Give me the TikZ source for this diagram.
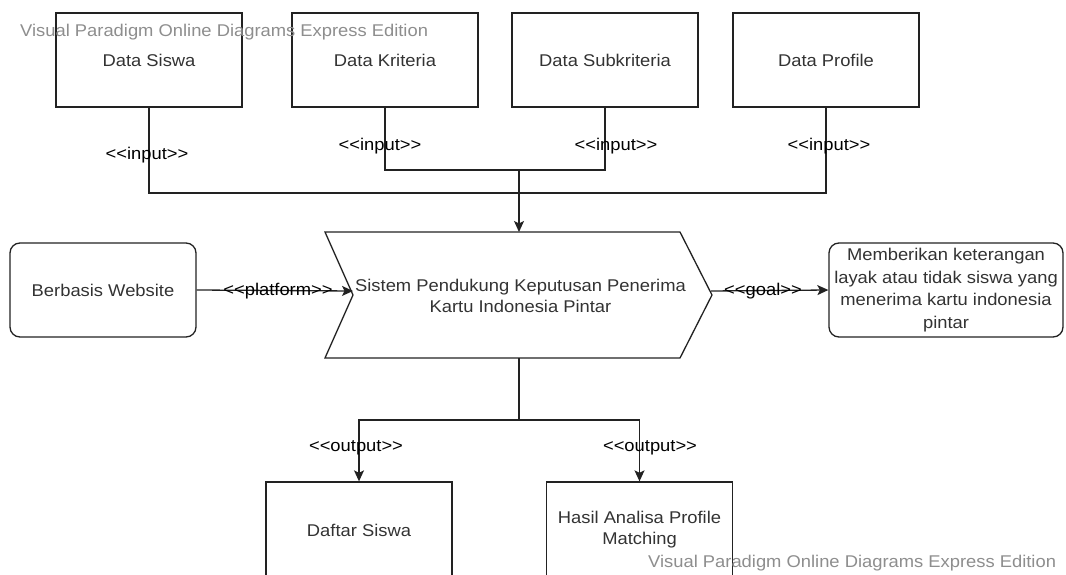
\documentclass[tikz,border=0pt]{standalone}
\usepackage{fontspec}
\setmainfont{Liberation Sans}[FakeStretch=1.08]
\usetikzlibrary{arrows.meta}
\definecolor{linec}{HTML}{222222}
\definecolor{boxtext}{HTML}{333333}
\definecolor{wmgray}{HTML}{8E8E8E}
\begin{document}
\begin{tikzpicture}[x=1pt,y=-1pt,
  every node/.style={font=\fontsize{17}{21}\selectfont},
  box/.style={draw=linec, line width=1.3pt, minimum width=186pt, minimum height=94pt,
              inner sep=0pt, text=boxtext, align=center},
  rbox/.style={box, rounded corners=10pt},
  stereo/.style={text=black, inner sep=1pt},
  wire/.style={draw=linec, line width=1.3pt},
  flow/.style={wire, -{Stealth[length=11pt,width=10pt,inset=2.5pt]}},
  wmtext/.style={text=wmgray, inner sep=0pt, anchor=west}]

\fill[white] (0,0) rectangle (1066,575);
\useasboundingbox (0,0) rectangle (1066,575);
\clip (0,0) rectangle (1066,575);

% input data stores
\node[box] (siswa)    at (149,60) {Data Siswa};
\node[box] (kriteria) at (385,60) {Data Kriteria};
\node[box] (subk)     at (605,60) {Data Subkriteria};
\node[box] (profile)  at (826,60) {Data Profile};

% the decision support system (chevron)
\draw[wire, line join=miter] (325,232) -- (680,232) -- (712,295) -- (680,358)
      -- (325,358) -- (353,295) -- cycle;
\node[text=boxtext, align=center, inner sep=0pt] (sys) at (520.5,296)
      {Sistem Pendukung Keputusan Penerima\\Kartu Indonesia Pintar};
\coordinate (sysN) at (519,232);
\coordinate (sysS) at (519,358);
\coordinate (sysW) at (353,291);
\coordinate (sysE) at (711,291);

% platform and goal
\node[rbox] (web) at (103,290) {Berbasis Website};
\node[rbox, minimum width=234pt, font=\fontsize{17}{22.5}\selectfont] (goal) at (946,290)
      {Memberikan keterangan\\layak atau tidak siswa yang\\menerima kartu indonesia\\pintar};

% outputs
\node[box, minimum height=96pt] (daftar) at (359,530) {Daftar Siswa};
\node[box, minimum height=96pt] (hasil)  at (639.5,530) {Hasil Analisa Profile\\Matching};

% input connectors
\coordinate (jtop) at (519,170);
\coordinate (jmid) at (519,193);
\draw[wire] (siswa.south) |- (jmid);
\draw[wire] (profile.south) |- (jmid);
\draw[wire] (kriteria.south) |- (jtop);
\draw[wire] (subk.south) |- (jtop);
\draw[flow] (jtop) -- (sysN);

% platform / goal connectors
\draw[flow] (web.east) -- (sysW);
\draw[flow] (sysE) -- (goal.west);

% output connectors
\coordinate (jbot) at (519,420);
\draw[wire] (sysS) -- (jbot);
\draw[flow] (jbot) -| (daftar.north);
\draw[flow] (jbot) -| (hasil.north);

% stereotype labels
\node[stereo] (l1) at (147,155) {<{}<input>{}>};
\node[stereo] (l2) at (380,146) {<{}<input>{}>};
\node[stereo] (l3) at (616,146) {<{}<input>{}>};
\node[stereo] (l4) at (829,146) {<{}<input>{}>};
\node[stereo] (l5) at (278,291) {<{}<platform>{}>};
\node[stereo] (l6) at (763,291) {<{}<goal>{}>};
\node[stereo] (l7) at (356,448) {<{}<output>{}>};
\node[stereo] (l8) at (650,448) {<{}<output>{}>};

% edition marks
\node[wmtext] (wm1) at (20,32) {Visual Paradigm Online Diagrams Express Edition};
\node[wmtext] (wm2) at (648,563) {Visual Paradigm Online Diagrams Express Edition};
\end{tikzpicture}
\end{document}
